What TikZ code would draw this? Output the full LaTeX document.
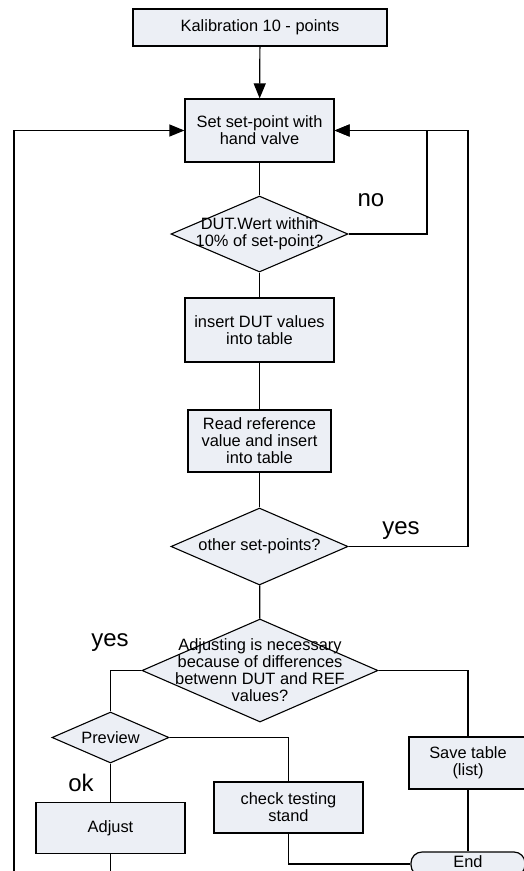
\documentclass[tikz,border=0pt]{standalone}
\usepackage{fontspec}
\setmainfont{Liberation Sans}
\usetikzlibrary{shapes.geometric,arrows.meta}
\definecolor{boxfill}{RGB}{236,239,245}
\begin{document}
\begin{tikzpicture}[x=1pt,y=-1pt,
 every node/.style={font=\fontsize{16.4}{17}\selectfont, inner sep=0pt, align=center},
 box/.style={draw, fill=boxfill, line width=1.2pt},
 dia/.style={draw, fill=boxfill, diamond, line width=1.1pt},
 lbl/.style={font=\fontsize{24}{26}\selectfont},
 ln/.style={line width=1.2pt},
 arr/.style={line width=1.2pt, -{Triangle[length=15pt,width=12pt]}}
]
\useasboundingbox (0,0) rectangle (524,871);
\clip (0,0) rectangle (524,871);
\fill[white] (0,0) rectangle (524,871);

\node[box, minimum width=254pt, minimum height=37pt] (top) at (260,27.5) {Kalibration 10 - points};
\node[box, minimum width=149pt, minimum height=63pt] (set) at (259.5,130.5) {Set set-point with\\hand valve};
\node[dia, minimum width=177pt, minimum height=76pt] (d1) at (259.5,234) {};
\node (d1t) at (d1.center) {DUT.Wert within\\10\% of set-point?};
\node[box, minimum width=149pt, minimum height=64pt] (ins) at (259.5,330) {insert DUT values\\into table};
\node[box, minimum width=143pt, minimum height=62pt] (read) at (259.5,441) {Read reference\\value and insert\\into table};
\node[dia, minimum width=177pt, minimum height=77pt] (d2) at (259.5,546.5) {};
\node (d2t) at (d2.center) {other set-points?};
\node[dia, minimum width=236pt, minimum height=103pt] (d3) at (260,670.5) {};
\node (d3t) at (d3.center) {Adjusting is necessary\\because of differences\\betwenn DUT and REF\\values?};
\node[dia, minimum width=117pt, minimum height=51pt] (prev) at (110.5,737.5) {};
\node (prevt) at (prev.center) {Preview};
\node[box, minimum width=149pt, minimum height=51pt] (check) at (288.5,807.5) {check testing\\stand};
\node[box, minimum width=149pt, minimum height=51pt] (adjust) at (110.5,828) {Adjust};
\node[box, minimum width=118pt, minimum height=52pt] (save) at (468,763) {Save table\\(list)};
\node[box, rounded corners=11pt, minimum width=114pt, minimum height=24pt] (end) at (468,864) {};
\node (endt) at (468,861.5) {End};

\node[lbl] (no) at (371,200) {no};
\node[lbl] (yes1) at (401,531) {yes};
\node[lbl] (yes2) at (110,643) {yes};
\node[lbl] (ok) at (81,783) {ok};

\coordinate (nr) at (427,130.5);
\coordinate (yr) at (468,130.5);
\coordinate (lb) at (14,900);

\draw[arr] (top) -- (set);
\draw[ln] (set) -- (d1);
\draw[ln] (d1) -- (ins);
\draw[ln] (ins) -- (read);
\draw[ln] (read) -- (d2);
\draw[ln] (d2) -- (d3);
\draw[arr] (d1.east) -| (nr) -- (set.east);
\draw[arr] (d2.east) -| (yr) -- (set.east);
\draw[ln] (d3.west) -| (prev.north);
\draw[ln] (d3.east) -| (save.north);
\draw[ln] (prev.east) -| (check.north);
\draw[ln] (prev.south) -- (adjust.north);
\draw[ln] (save.south) -- (end.north);
\draw[ln] (check.south) |- (end.west);
\draw[arr] (adjust.south) |- (lb) |- (set.west);
\end{tikzpicture}
\end{document}
